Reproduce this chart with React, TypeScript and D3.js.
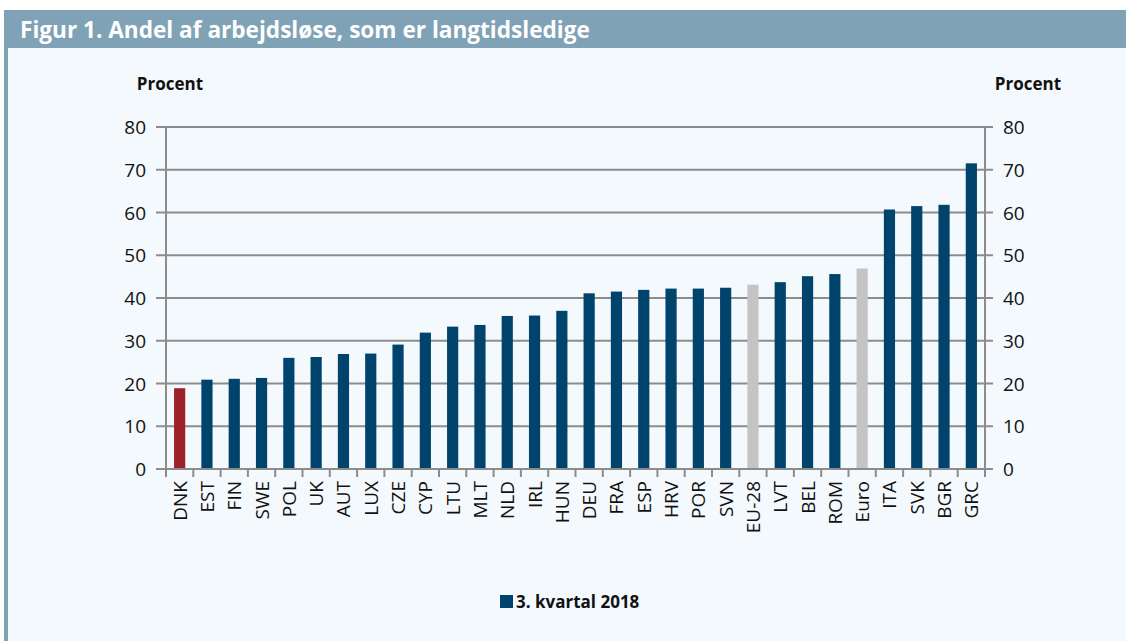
import React from 'react';
import * as d3 from 'd3';

const categories = ['DNK', 'EST', 'FIN', 'SWE', 'POL', 'UK', 'AUT', 'LUX', 'CZE', 'CYP', 'LTU', 'MLT', 'NLD', 'IRL', 'HUN', 'DEU', 'FRA', 'ESP', 'HRV', 'POR', 'SVN', 'EU-28', 'LVT', 'BEL', 'ROM', 'Euro', 'ITA', 'SVK', 'BGR', 'GRC'];
const values = [18.9, 20.9, 21.1, 21.3, 26.0, 26.2, 26.9, 27.0, 29.1, 31.9, 33.3, 33.7, 35.8, 35.9, 37.0, 41.1, 41.5, 41.9, 42.2, 42.2, 42.4, 43.1, 43.7, 45.1, 45.6, 46.9, 60.7, 61.5, 61.8, 71.5];
const yTicks = [0, 10, 20, 30, 40, 50, 60, 70, 80];
const highlight = ['DNK'];
const aggregates = ['EU-28', 'Euro'];

const W = 1126;
const H = 641;
const M = { left: 166, right: 985, top: 127, bottom: 469 };

const COLORS = {
  header: '#7fa2b7',
  bg: '#f4f9fd',
  bar: '#00446d',
  dnk: '#9d2128',
  agg: '#c4c4c4',
  grid: '#8c8c8c',
};

const FONT = '"Open Sans", Lato, sans-serif';

export default function App() {
  const x = d3.scaleBand<string>().domain(categories).range([M.left, M.right]).paddingInner(0.59).paddingOuter(0.295);
  const band = d3.scaleBand<string>().domain(categories).range([M.left, M.right]);
  const y = d3.scaleLinear().domain([0, 80]).range([M.bottom, M.top]);

  const color = (c: string) => (highlight.includes(c) ? COLORS.dnk : aggregates.includes(c) ? COLORS.agg : COLORS.bar);

  return (
    <svg width={W} height={H} style={{ position: 'absolute', left: 0, top: 0 }} fontFamily={FONT}>
      <rect x={0} y={0} width={W} height={H} fill="#ffffff" />
      <rect x={4} y={48} width={W - 4} height={H - 48} fill={COLORS.bg} />
      <rect x={4} y={10} width={W - 4} height={38} fill={COLORS.header} />
      <rect x={4} y={48} width={4} height={H - 48} fill={COLORS.header} />
      <text x={20} y={38} fill="#fff" fontSize={22.6} fontWeight={700}>
        Figur 1. Andel af arbejdsløse, som er langtidsledige
      </text>

      <text x={170} y={90} textAnchor="middle" fontSize={17} fontWeight={700} fill="#111">Procent</text>
      <text x={1028} y={90} textAnchor="middle" fontSize={17} fontWeight={700} fill="#111">Procent</text>

      {yTicks.map((t) => (
        <g key={t}>
          <line x1={M.left - 10} x2={M.right + 8} y1={y(t)} y2={y(t)} stroke={COLORS.grid} strokeWidth={2} />
          <text x={146} y={y(t) + 7} textAnchor="end" fontSize={19} fill="#111">{t}</text>
          <text x={1003} y={y(t) + 7} textAnchor="start" fontSize={19} fill="#111">{t}</text>
        </g>
      ))}

      {categories.map((c, i) => (
        <rect key={c} x={x(c)} y={y(values[i])} width={x.bandwidth()} height={y(0) - y(values[i])} fill={color(c)} />
      ))}

      <line x1={M.left} x2={M.left} y1={M.top} y2={M.bottom} stroke={COLORS.grid} strokeWidth={2} />
      <line x1={M.right} x2={M.right} y1={M.top} y2={M.bottom} stroke={COLORS.grid} strokeWidth={2} />
      <line x1={M.left - 10} x2={M.right + 8} y1={M.bottom} y2={M.bottom} stroke={COLORS.grid} strokeWidth={2} />

      {categories.map((c) => (
        <line key={'t' + c} x1={band(c)} x2={band(c)} y1={M.bottom} y2={M.bottom + 8} stroke={COLORS.grid} strokeWidth={2} />
      ))}
      <line x1={M.right} x2={M.right} y1={M.bottom} y2={M.bottom + 8} stroke={COLORS.grid} strokeWidth={2} />

      {categories.map((c) => {
        const cx = (x(c) ?? 0) + x.bandwidth() / 2;
        return (
          <text key={'l' + c} transform={`translate(${cx + 7},${481}) rotate(-90)`} textAnchor="end" fontSize={19} fill="#111">
            {c}
          </text>
        );
      })}

      <rect x={500} y={595} width={13} height={13} fill={COLORS.bar} />
      <text x={516} y={608} fontSize={17} fontWeight={700} fill="#111">3. kvartal 2018</text>
    </svg>
  );
}
